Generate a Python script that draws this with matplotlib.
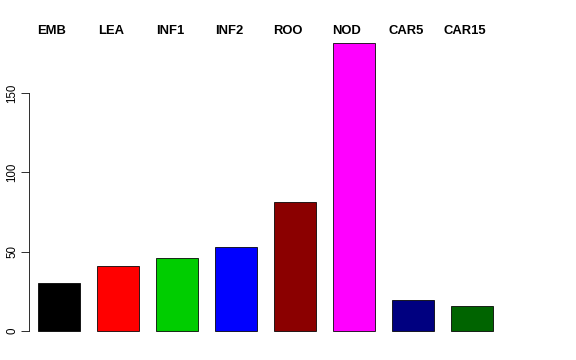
import matplotlib
matplotlib.use("Agg")
import matplotlib.pyplot as plt

categories = ["EMB", "LEA", "INF1", "INF2", "ROO", "NOD", "CAR5", "CAR15"]
values = [30, 41, 46, 53, 81, 181.5, 19.5, 16]
colors = ["#000000", "#FF0000", "#00CD00", "#0000FF", "#8B0000", "#FF00FF", "#000080", "#006400"]
yticks = [0, 50, 100, 150]

fig = plt.figure(figsize=(8, 5), dpi=72)
ax = fig.add_axes([29/576, 1 - 342.5/360, (502-29)/576, (342.5-31.4)/360])

x = list(range(len(categories)))
ax.bar(x, values, width=0.712, color=colors, edgecolor="black", linewidth=0.8)
ax.set_xlim(-0.51, 7.51)
ymax = max(values)
ax.set_ylim(-0.04*ymax, ymax*1.04)

for s in ["top", "right", "bottom"]:
    ax.spines[s].set_visible(False)
ax.spines["left"].set_bounds(0, 150)
ax.spines["left"].set_linewidth(0.8)
ax.set_xticks([])
ax.set_yticks(yticks)
ax.set_yticklabels([str(t) for t in yticks], rotation=90, va="center", fontsize=11.5,
                   family="Liberation Sans")
ax.tick_params(axis="y", length=8, width=0.8, pad=3)

trans = matplotlib.transforms.blended_transform_factory(ax.transData, fig.transFigure)
for xi, lab in zip(x, categories):
    ax.text(xi - 0.12, 1 - 34/360, lab, transform=trans,
            ha="center", va="baseline", fontsize=13, fontweight="bold",
            family="Liberation Sans")

fig.savefig("out.png", dpi=72)
